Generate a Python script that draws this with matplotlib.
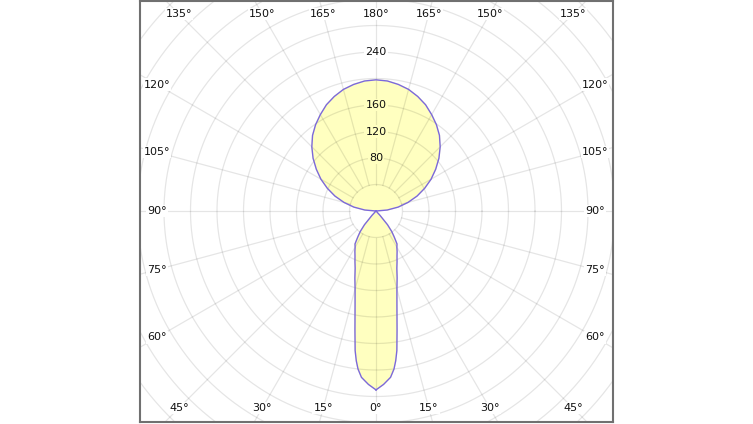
import numpy as np
import matplotlib
matplotlib.use("Agg")
import matplotlib.pyplot as plt

# luminous intensity (cd) vs gamma angle (deg), 0 = straight down
gamma_down = [0, 2.5, 5, 6.5, 7.5, 8.5, 10, 12.5, 15, 17.5, 20, 22.5, 25, 27.5, 30,
              32.5, 35, 37.5, 40, 42.5, 45, 90]
cd_down = [270, 262, 252, 240, 228, 213, 183, 146, 122, 106, 92, 83, 75, 69, 63,
           59, 48, 39, 27, 9, 0, 0]

gamma_up = [90, 95, 100, 105, 110, 115, 120, 125, 130, 135, 140, 145, 150,
            155, 160, 165, 170, 175, 180]
cd_up = [0, 17, 34, 50, 66, 81, 96, 110, 124, 137, 149, 159, 168,
         177, 184, 190, 194, 197, 198]

ring_values = [40, 80, 120, 160, 200, 240, 280, 320, 360, 400, 440, 480]
ring_labels = [80, 120, 160, 240]
angle_ticks = [0, 15, 30, 45, 60, 75, 90, 105, 120, 135, 150, 165, 180]

fill_col = "#ffffc0"
line_col = "#7b68dd"
grid_col = (0, 0, 0, 0.1)

fig = plt.figure(figsize=(7.53, 4.24), dpi=100)
W, H = 753, 424
ax = fig.add_axes([140 / W, (424 - 421.7) / H, 472.7 / W, 420.7 / H])
s = 40 / 26.5  # cd per pixel
ax.set_xlim(-236 * s, 236.7 * s)
ax.set_ylim(-(421.7 - 211) * s, (211 - 1) * s)
ax.set_xticks([])
ax.set_yticks([])
for sp in ax.spines.values():
    sp.set_color("#707070")
    sp.set_linewidth(1.5)

# full curve, mirrored left/right
g = np.concatenate([gamma_down, gamma_up[1:]])
i = np.concatenate([cd_down, cd_up[1:]])
gr = np.radians(g)
xr, yr = i * np.sin(gr), -i * np.cos(gr)
x = np.concatenate([xr, -xr[::-1]])
y = np.concatenate([yr, yr[::-1]])
ax.fill(x, y, color=fill_col, zorder=1)

# grid rings and spokes
t = np.linspace(0, 2 * np.pi, 400)
for r in ring_values:
    ax.plot(r * np.cos(t), r * np.sin(t), color=grid_col, lw=0.9, zorder=2)
for a in range(0, 360, 15):
    ar = np.radians(a)
    ax.plot([40 * np.sin(ar), 700 * np.sin(ar)], [-40 * np.cos(ar), -700 * np.cos(ar)],
            color=grid_col, lw=0.9, zorder=2)

ax.plot(x, y, color=line_col, lw=1.0, zorder=3)

# ring labels
for v in ring_labels:
    bg = "white" if v > 200 else fill_col
    ax.text(0, v, str(v), ha="center", va="center", fontsize=8, color="#111111", zorder=4,
            bbox=dict(boxstyle="square,pad=0.1", fc=bg, ec="none"))

# angle labels on an inner rectangle
xin = (595 - 376) * s
ytop = (211 - 14) * s
ybot = -(408 - 211) * s
for a in angle_ticks:
    ar = np.radians(a)
    dx, dy = np.sin(ar), -np.cos(ar)
    cands = []
    if dx > 1e-9:
        cands.append(xin / dx)
    if dy > 1e-9:
        cands.append(ytop / dy)
    if dy < -1e-9:
        cands.append(ybot / dy)
    k = min(cands)
    for sgn in ([1, -1] if a not in (0, 180) else [1]):
        ax.text(sgn * k * dx, k * dy, f"{a}°", ha="center", va="center", fontsize=8,
                color="#111111", zorder=4,
                bbox=dict(boxstyle="square,pad=0.1", fc="white", ec="none"))

fig.savefig("out.png", dpi=100)
